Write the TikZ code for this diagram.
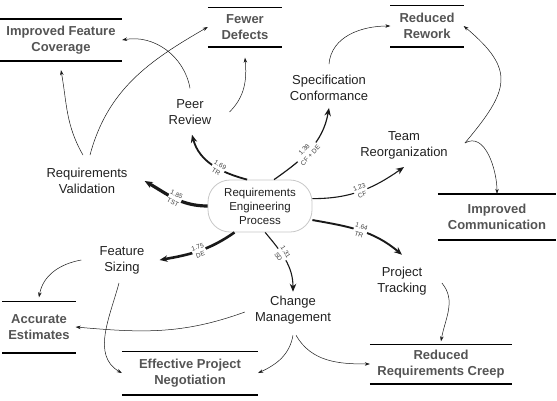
\documentclass[tikz,border=0pt]{standalone}
\usepackage{fontspec}
\setmainfont{Liberation Sans}
\usetikzlibrary{arrows.meta}
\colorlet{ecol}{black!90}
\definecolor{colT}{gray}{.13}
\definecolor{colO}{gray}{.33}
\definecolor{colL}{gray}{.25}
\tikzstyle{process}=[draw=black!22, line width=0.8pt, rounded corners=22pt, minimum width=104pt, minimum height=52pt, align=center, font=\fontsize{11.5}{14}\selectfont, text=colT]
\tikzstyle{factor}=[align=center, inner sep=2pt, font=\fontsize{13}{16}\selectfont, text=colT]
\tikzstyle{outcome}=[align=center, inner sep=0pt, font=\fontsize{13}{16}\selectfont\bfseries, text=colO]
\tikzstyle{bar}=[line width=1.6pt]
\tikzstyle{impact}=[ecol, -{Stealth[length=8pt,width=6.5pt]}]
\tikzstyle{lead}=[ecol, line width=0.5pt, -{Stealth[length=5pt,width=3.5pt]}]
\tikzstyle{elabel}=[sloped, fill=white, inner sep=0.6pt, align=center, font=\fontsize{6.5}{8.5}\selectfont, text=colL]

\begin{document}
\begin{tikzpicture}[x=1pt,y=1pt]
	\useasboundingbox (0,0) rectangle (557,-400);
	% process and factors
	\node[process] (rep) at (260,-206) {Requirements\\Engineering\\Process};
	\node[factor] (pr) at (190,-112) {Peer\\Review};
	\node[factor] (sc) at (329,-88) {Specification\\Conformance};
	\node[factor] (tr) at (404,-145) {Team\\Reorganization};
	\node[factor] (rv) at (87,-181) {Requirements\\Validation};
	\node[factor] (fs) at (122,-260) {Feature\\Sizing};
	\node[factor] (cm) at (293,-310) {Change\\Management};
	\node[factor] (pt) at (402,-281) {Project\\Tracking};
	% outcomes
	\node[outcome, minimum width=122pt, minimum height=42pt] (ifc) at (61,-40) {Improved Feature\\Coverage};
	\node[outcome, minimum width=74pt, minimum height=39pt] (fd) at (245,-27) {Fewer\\Defects};
	\node[outcome, minimum width=73pt, minimum height=41pt] (rr) at (427,-26) {Reduced\\Rework};
	\node[outcome, minimum width=118pt, minimum height=46pt] (ic) at (497,-217) {Improved\\Communication};
	\node[outcome, minimum width=73pt, minimum height=51pt] (ae) at (39,-327) {Accurate\\Estimates};
	\node[outcome, minimum width=136pt, minimum height=43pt] (epn) at (190,-373) {Effective Project\\Negotiation};
	\node[outcome, minimum width=142pt, minimum height=39pt] (rrc) at (441,-364) {Reduced\\Requirements Creep};
	\foreach \n in {ifc,fd,rr,ic,ae,epn,rrc}
		\draw[bar] (\n.north west) -- (\n.north east) (\n.south west) -- (\n.south east);
	% weighted impacts
	\draw[impact, line width=3.2pt] (rep.west) to[out=180,in=-30] node[elabel,pos=.5]{1.85\\TST} ([xshift=15pt]rv.east);
	\draw[impact, line width=2.6pt] (rep.-134) to[out=215,in=10] node[elabel,pos=.5]{1.75\\DE} ([xshift=13pt]fs.east);
	\draw[impact, line width=1.1pt] (rep.-79) to[out=-50,in=90] node[elabel,pos=.4]{1.31\\SD} ([yshift=2pt]cm.north);
	\draw[impact, line width=1.9pt] (rep.-15) to[out=-10,in=140] node[elabel,pos=.5]{1.64\\TR} ([yshift=10pt]pt.north);
	\draw[impact, line width=1.1pt] (rep.8) to[out=0,in=-145] node[elabel,pos=.5]{1.23\\CF} ([yshift=-6pt]tr.south);
	\draw[impact, line width=1.2pt] (rep.62) to[out=35,in=-100] node[elabel,pos=.45]{1.38\\CF + DE} ([yshift=-5pt]sc.south);
	\draw[impact, line width=1.8pt] (rep.116) to[out=165,in=-75] node[elabel,pos=.4]{1.69\\TR} ([xshift=2pt,yshift=-8pt]pr.south);
	% effects on outcomes
	\draw[lead] ([yshift=9pt]pr.north) to[out=100,in=10] (ifc.east);
	\draw[lead] ([xshift=16pt]pr.east) to[out=45,in=-85] ([yshift=-11pt]fd.south);
	\draw[lead] ([xshift=-4pt,yshift=11pt]rv.north) to[out=120,in=-80] ([yshift=-9pt]ifc.south);
	\draw[lead] ([xshift=3pt,yshift=11pt]rv.north) to[out=75,in=210] (fd.west);
	\draw[lead] ([yshift=9pt]sc.north) to[out=85,in=180] (rr.west);
	\draw[lead] ([xshift=15pt,yshift=2pt]tr.east) to[out=50,in=-40,looseness=1.5] (rr.east);
	\draw[lead] ([xshift=15pt,yshift=2pt]tr.east) to[out=30,in=90] (ic.north);
	\draw[lead] ([xshift=-16pt]fs.west) to[out=190,in=80] ([yshift=4pt]ae.north);
	\draw[lead] ([xshift=-3pt,yshift=-7pt]fs.south) to[out=-105,in=150] (epn.west);
	\draw[lead] ([xshift=-8pt,yshift=-2pt]cm.west) to[out=200,in=-5] (ae.east);
	\draw[lead] ([yshift=-9pt]cm.south) to[out=-100,in=25] (epn.east);
	\draw[lead] ([xshift=3pt,yshift=-9pt]cm.south) to[out=-60,in=180] (rrc.west);
	\draw[lead] ([xshift=13pt,yshift=-2pt]pt.east) to[out=-50,in=80] ([yshift=3pt]rrc.north);
\end{tikzpicture}
\end{document}
